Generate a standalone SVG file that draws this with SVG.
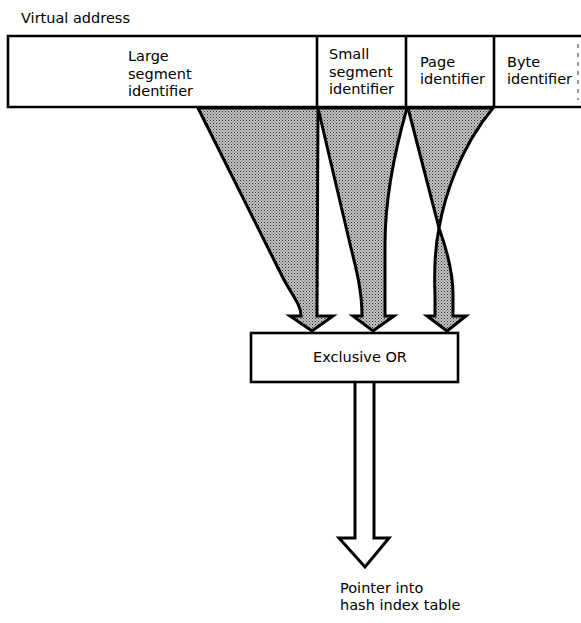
<svg xmlns="http://www.w3.org/2000/svg" width="581" height="623" viewBox="0 0 581 623">
  <defs>
    <!-- fine stipple used for the shaded bit-field bands -->
    <pattern id="stipple" width="3" height="3" patternUnits="userSpaceOnUse">
      <rect width="3" height="3" fill="#c4c4c4"/>
      <rect x="0" y="0" width="1" height="1" fill="#2a2a2a"/>
      <rect x="1.5" y="1.5" width="1" height="1" fill="#555"/>
    </pattern>
    <style>
      .lbl { font-family: "DejaVu Sans", "Liberation Sans", sans-serif; font-size: 14.5px; fill: #000; }
      .box { fill: #fff; stroke: #000; stroke-width: 2.6; }
      .band { fill: url(#stipple); stroke: #000; stroke-width: 3; stroke-linejoin: miter; }
      .out { fill: #fff; stroke: #000; stroke-width: 3; stroke-linejoin: miter; }
    </style>
  </defs>

  <rect width="581" height="623" fill="#fff"/>

  <text class="lbl" x="21" y="23">Virtual address</text>

  <!-- connectors: shaded bands from the address fields into the XOR, and the result -->
  <g id="connectors">
    <path class="band" d="M198,108 L282,276 C291,294 301,304 301,316 L290,316 L312,331 L333,316 L317,316 L318,108 Z"/>
    <path class="band" d="M318,108 L350,244 C356,268 362,290 362,316 L353,316 L373,331 L394,316 L385,316 L385,244 C385,196 395,150 407,108 Z"/>
    <path class="band" d="M408,108 L439,228 C447,250 453,272 453,295 L453,316 L466,316 L447,331 L427,316 L435,316 L435,295 C434,270 435,248 439,228 C444,200 458,150 493,108 Z"/>
    <path class="out" d="M355,383 L355,538 L339,538 L365,567 L389,538 L374,538 L374,383"/>
  </g>

  <!-- address register, open on the right -->
  <g id="virtual-address">
    <path class="box" d="M590,36 H8 V107 H590"/>
    <line x1="317" y1="36" x2="317" y2="107" stroke="#000" stroke-width="2.6"/>
    <line x1="406" y1="36" x2="406" y2="107" stroke="#000" stroke-width="2.6"/>
    <line x1="494" y1="36" x2="494" y2="107" stroke="#000" stroke-width="2.6"/>
    <line x1="578" y1="44" x2="578" y2="100" stroke="#555" stroke-width="1.2" stroke-dasharray="4 5"/>
  </g>

  <g id="large-segment">
    <text class="lbl" x="128" y="61">Large</text>
    <text class="lbl" x="128" y="78.5">segment</text>
    <text class="lbl" x="128" y="96">identifier</text>
  </g>
  <g id="small-segment">
    <text class="lbl" x="329" y="59">Small</text>
    <text class="lbl" x="329" y="76.5">segment</text>
    <text class="lbl" x="329" y="94">identifier</text>
  </g>
  <g id="page">
    <text class="lbl" x="420" y="67">Page</text>
    <text class="lbl" x="420" y="84">identifier</text>
  </g>
  <g id="byte">
    <text class="lbl" x="507" y="67">Byte</text>
    <text class="lbl" x="507" y="84">identifier</text>
  </g>

  <g id="xor">
    <rect class="box" x="251" y="333" width="207" height="49"/>
    <text class="lbl" x="360" y="362" text-anchor="middle">Exclusive OR</text>
  </g>

  <g id="pointer">
    <text class="lbl" x="340" y="593">Pointer into</text>
    <text class="lbl" x="340" y="610">hash index table</text>
  </g>
</svg>
